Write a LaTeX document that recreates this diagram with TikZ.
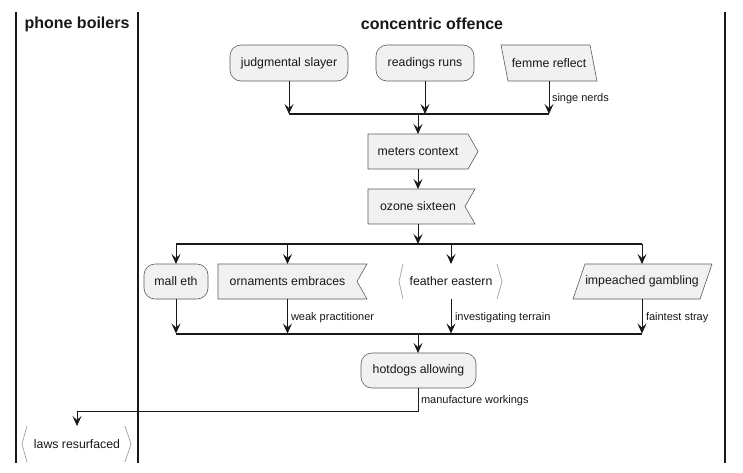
\documentclass[tikz,border=0pt]{standalone}
\usepackage{fontspec}
\setmainfont{Liberation Sans}
\usetikzlibrary{arrows.meta,calc}
\definecolor{boxfill}{HTML}{F1F1F1}
\definecolor{ink}{HTML}{181818}
\tikzset{
  every node/.style={inner sep=0pt, outer sep=0pt},
  txt/.style={font=\fontsize{12.3}{14}\selectfont, text=ink},
  lbl/.style={font=\fontsize{11}{13}\selectfont, text=ink, anchor=west},
  hdr/.style={font=\fontsize{16}{19}\selectfont\bfseries, text=ink},
  roundbox/.style={txt, draw=ink!70, fill=boxfill, line width=0.6pt, rounded corners=11pt},
  shapeline/.style={draw=ink!70, fill=boxfill, line width=0.6pt},
  bracket/.style={draw=gray!75, line width=0.7pt},
  flow/.style={draw=ink, line width=0.8pt, -{Stealth[length=10pt,width=9pt,inset=4pt]}},
  plain/.style={draw=ink, line width=0.8pt},
  bar/.style={draw=ink, line width=2pt},
  lane/.style={draw=ink, line width=1.4pt},
}
\begin{document}
\begin{tikzpicture}[x=1pt,y=-1pt]
\useasboundingbox[fill=white] (0,0) rectangle (743,472);

% swimlanes
\draw[lane] (16,12) -- (16,463);
\draw[lane] (138,12) -- (138,463);
\draw[lane] (725,12) -- (725,463);
\node[hdr] (h1) at (77,24) {phone boilers};
\node[hdr] (h2) at (432,24) {concentric offence};

% top row
\node[roundbox, minimum width=118pt, minimum height=36pt] (j) at (289,63) {judgmental slayer};
\node[roundbox, minimum width=98pt, minimum height=36pt] (r) at (425,63) {readings runs};
\path[shapeline] (501,45) -- (590,45) -- (597,81) -- (508,81) -- cycle;
\node[txt, minimum width=88pt, minimum height=36pt] (f) at (549,63) {femme reflect};

% join bar 1
\coordinate (b1l) at (289,114);
\coordinate (b1r) at (549,114);
\coordinate (b1m) at (418,114);
\draw[bar] (b1l) -- (b1r);
\draw[flow] (j.south) -- (j.south |- b1l);
\draw[flow] (r.south) -- (r.south |- b1l);
\draw[flow] (f.south) -- (f.south |- b1l);
\node[lbl] (l1) at (552,99) {singe nerds};

% meters context
\path[shapeline] (368,134) -- (468,134) -- (478,151.5) -- (468,169) -- (368,169) -- cycle;
\node[txt, minimum width=100pt, minimum height=35pt] (m) at (418,151.5) {meters context};
\draw[flow] (b1m) -- (m.north);

% ozone sixteen
\path[shapeline] (368,189) -- (475,189) -- (465,206.5) -- (475,224) -- (368,224) -- cycle;
\node[txt, minimum width=100pt, minimum height=35pt] (o) at (418,206.5) {ozone sixteen};
\draw[flow] (m.south) -- (o.north);

% split bar
\coordinate (b2l) at (176,244);
\coordinate (b2r) at (642,244);
\coordinate (b2m) at (418,244);
\draw[bar] (b2l) -- (b2r);
\draw[flow] (o.south) -- (b2m);

% row 2
\node[roundbox, minimum width=64pt, minimum height=35pt] (me) at (176,281.5) {mall eth};
\path[shapeline] (218,264) -- (367,264) -- (357,281.5) -- (367,299) -- (218,299) -- cycle;
\node[txt, minimum width=130pt, minimum height=35pt] (oe) at (287.5,281.5) {ornaments embraces};
\draw[bracket] (403,264) -- (399,281.5) -- (403,299);
\draw[bracket] (497,264) -- (502,281.5) -- (497,299);
\node[txt, minimum width=94pt, minimum height=35pt] (fe) at (451,281.5) {feather eastern};
\path[shapeline] (585,264) -- (712,264) -- (700,299) -- (573,299) -- cycle;
\node[txt, minimum width=127pt, minimum height=35pt] (ig) at (642,281.5) {impeached gambling};

\draw[flow] (me.north |- b2l) -- (me.north);
\draw[flow] (oe.north |- b2l) -- (oe.north);
\draw[flow] (fe.north |- b2l) -- (fe.north);
\draw[flow] (ig.north |- b2l) -- (ig.north);

% join bar 3
\coordinate (b3l) at (176,333.5);
\coordinate (b3r) at (642,333.5);
\coordinate (b3m) at (418,333.5);
\draw[bar] (b3l) -- (b3r);
\draw[flow] (me.south) -- (me.south |- b3l);
\draw[flow] (oe.south) -- (oe.south |- b3l);
\draw[flow] (fe.south) -- (fe.south |- b3l);
\draw[flow] (ig.south) -- (ig.south |- b3l);
\node[lbl] (l2) at (291,318) {weak practitioner};
\node[lbl] (l3) at (455,318) {investigating terrain};
\node[lbl] (l4) at (646,318) {faintest stray};

% hotdogs allowing
\node[roundbox, minimum width=115pt, minimum height=35pt] (ha) at (418.5,370.5) {hotdogs allowing};
\draw[flow] (b3m) -- (b3m |- ha.north);

% laws resurfaced
\draw[bracket] (27,426) -- (22,444) -- (27,462);
\draw[bracket] (125,426) -- (131,444) -- (125,462);
\node[txt, minimum width=98pt, minimum height=36pt] (lr) at (77,444) {laws resurfaced};

\coordinate (c1) at (418,411);
\draw[flow] (c1 |- ha.south) -- (c1) -| (lr.north);
\node[lbl] (l5) at (421,401) {manufacture workings};
\end{tikzpicture}
\end{document}
